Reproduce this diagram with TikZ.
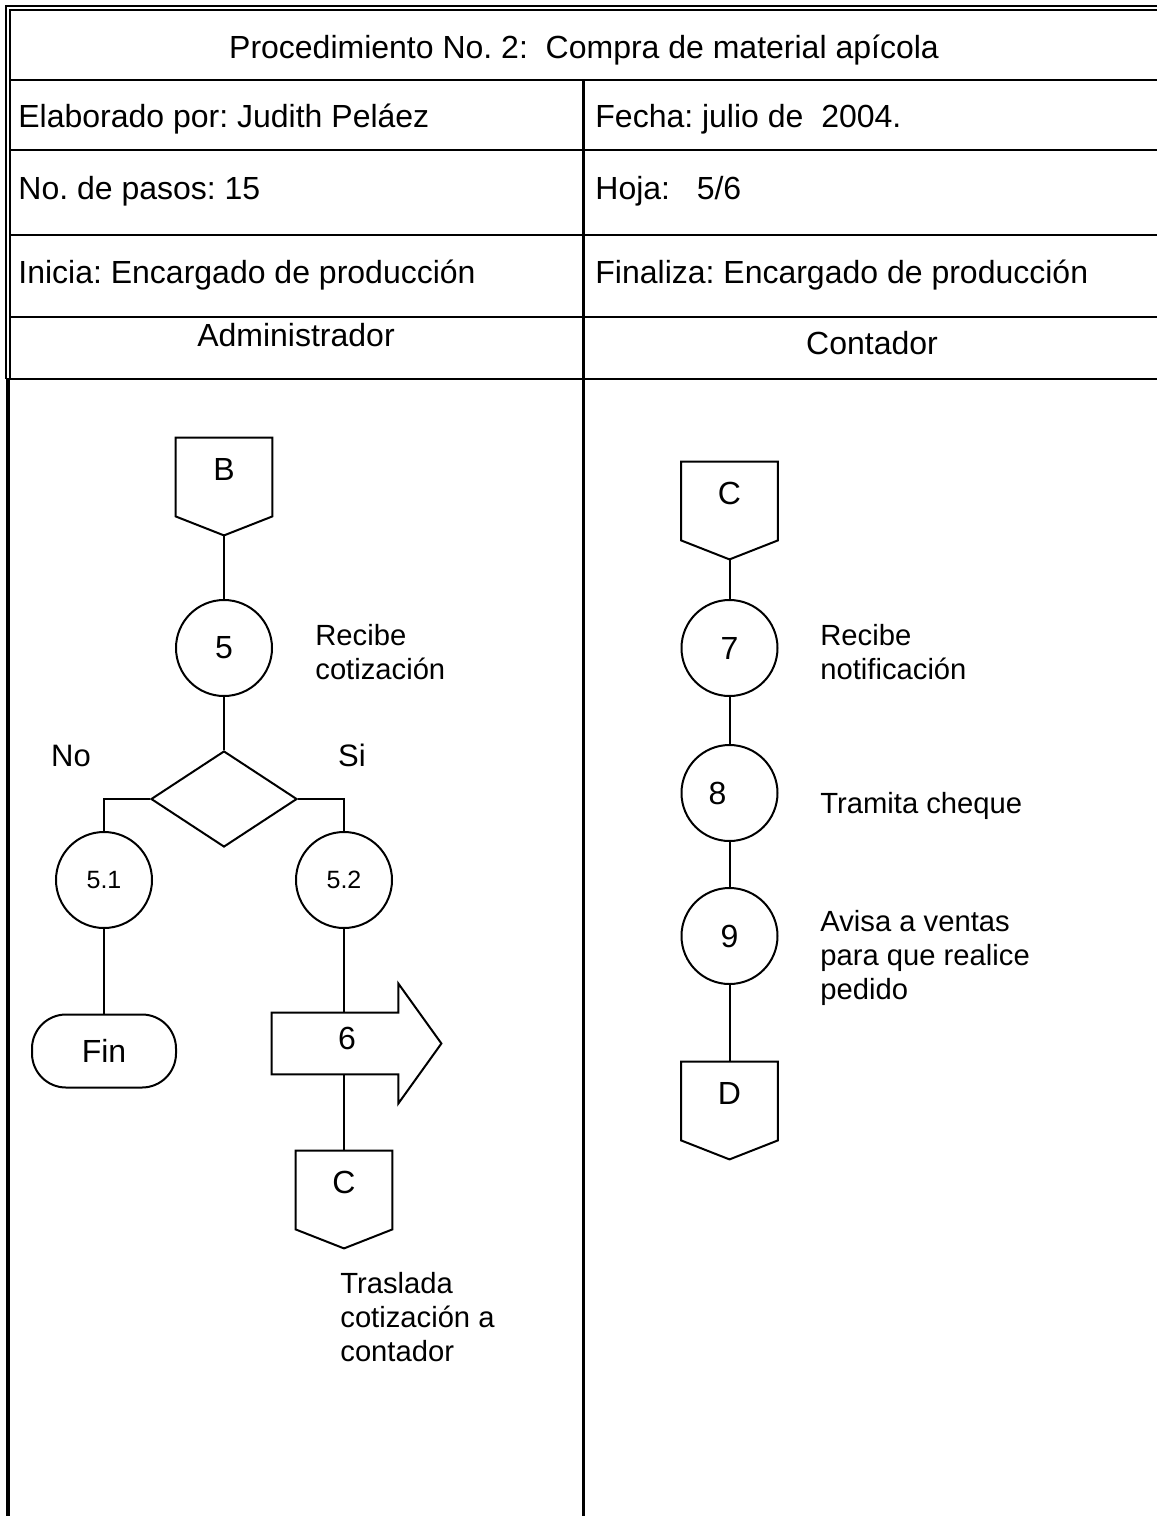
\documentclass[tikz,border=0pt]{standalone}
\usepackage{fontspec}
\setmainfont{Liberation Sans}
\usetikzlibrary{shapes.geometric,calc}
\frenchspacing
\begin{document}
\begin{tikzpicture}[x=0.5pt,y=-0.5pt,
  rule/.style={line width=1.3pt},
  thin rule/.style={line width=1pt},
  shapeline/.style={line width=1pt, line join=miter},
  conn/.style={line width=1pt},
  hdr/.style={font=\fontsize{16}{19}\selectfont, inner sep=0, anchor=base west},
  hdrc/.style={font=\fontsize{16}{19}\selectfont, inner sep=0, anchor=base},
  lbl/.style={font=\fontsize{14.6}{17}\selectfont, inner sep=0, anchor=north west, align=left},
  stepcircle/.style={circle, draw, line width=1pt, minimum size=48pt, inner sep=0,
    font=\fontsize{16}{19}\selectfont},
  substep/.style={stepcircle, font=\fontsize{12.5}{15}\selectfont},
  offpage/.style={minimum width=48pt, minimum height=48.5pt, inner sep=0,
    font=\fontsize{16}{19}\selectfont, text height=11.4pt, text depth=17.5pt},
]
\useasboundingbox (0,0) rectangle (1157,1516);

% ---- table frame ----
\draw[thin rule] (6,379) -- (6,5.5) -- (1160,5.5);
\draw[thin rule] (10,379) -- (10,9.5) -- (1160,9.5);
\draw[line width=2pt] (8,378) -- (8,1516);
\foreach \yy in {80,150,235,317} \draw[rule] (10,\yy) -- (1157,\yy);
\draw[rule] (6,379) -- (1157,379);
\draw[rule] (583.5,80) -- (583.5,1516);

% ---- header texts ----
\node[hdrc] (title) at (584,58) {Procedimiento No. 2:\ \ Compra de material apícola};
\node[hdr] (autor) at (18,127) {Elaborado por: Judith Peláez};
\node[hdr] (fecha) at (595,127) {Fecha: julio de\ \ 2004.};
\node[hdr] (pasos) at (18,199) {No. de pasos: 15};
\node[hdr] (hoja) at (595,199) {Hoja:\ \ \ 5/6};
\node[hdr] (inicia) at (18,283) {Inicia: Encargado de producción};
\node[hdr] (finaliza) at (595,283) {Finaliza: Encargado de producción};
\node[hdrc] (admin) at (296,346) {Administrador};
\node[hdrc] (conta) at (872,354) {Contador};

% ---- Administrador lane ----
\node[offpage] (B) at (224,486.5) {B};
\node[stepcircle] (c5) at (224,648) {5};
\node[lbl] (t5) at (315,624) {Recibe\\cotización};
\node[diamond, draw, line width=1pt, minimum width=73pt, minimum height=48pt, inner sep=0]
  (dec) at (224,799) {};
\node[hdrc, font=\fontsize{15.5}{18}\selectfont] (no) at (71,766) {No};
\node[hdrc, font=\fontsize{15.5}{18}\selectfont] (si) at (352,766) {Si};
\node[substep] (c51) at (104,880) {5.1};
\node[substep] (c52) at (344,880) {5.2};
\node[draw, line width=1pt, rounded corners=17pt, minimum width=72pt, minimum height=36.5pt,
  inner sep=0, font=\fontsize{16}{19}\selectfont] (fin) at (104,1051) {Fin};
\node[minimum width=63pt, minimum height=30.5pt, inner sep=0,
  font=\fontsize{16}{19}\selectfont, text height=11.4pt, text depth=5.5pt]
  (s6) at (335,1043.5) {\hspace*{12pt}6};
\node[offpage] (Cl) at (344,1199.5) {C};
\node[lbl] (t6) at (340,1272) {Traslada\\cotización a\\contador};

% ---- Contador lane ----
\node[offpage] (Cr) at (729.5,510.5) {C};
\node[stepcircle] (c7) at (729.5,648) {7};
\node[lbl] (t7) at (820,624) {Recibe\\notificación};
\node[stepcircle] (c8) at (729.5,793) {8\hspace*{12pt}};
\node[lbl] (t8) at (820,792) {Tramita cheque};
\node[stepcircle] (c9) at (729.5,936) {9};
\node[lbl] (t9) at (820,910) {Avisa a ventas\\para que realice\\pedido};
\node[offpage] (D) at (729.5,1110.5) {D};

% ---- off-page connector outlines ----
\foreach \n in {B,Cl,Cr,D}
  \draw[shapeline] (\n.north west) -- (\n.north east) -- ($(\n.south east)+(0,-19)$)
    -- (\n.south) -- ($(\n.south west)+(0,-19)$) -- cycle;

% ---- transport arrow outline ----
\draw[shapeline] (s6.north west) -- (s6.north east) -- ++(0,-29)
  -- ($(s6.east)+(43,0)$) -- ($(s6.south east)+(0,29)$) -- (s6.south east)
  -- (s6.south west) -- cycle;

% ---- connectors ----
\draw[conn] (B.south) -- (c5.north);
\draw[conn] (c5.south) -- (dec.north);
\draw[conn] (dec.west) -| (c51.north);
\draw[conn] (dec.east) -| (c52.north);
\draw[conn] (c51.south) -- (fin.north);
\draw[conn] (c52.south) -- (c52.south |- s6.north);
\draw[conn] (s6.south -| Cl.north) -- (Cl.north);
\draw[conn] (Cr.south) -- (c7.north);
\draw[conn] (c7.south) -- (c8.north);
\draw[conn] (c8.south) -- (c9.north);
\draw[conn] (c9.south) -- (D.north);
\end{tikzpicture}
\end{document}
